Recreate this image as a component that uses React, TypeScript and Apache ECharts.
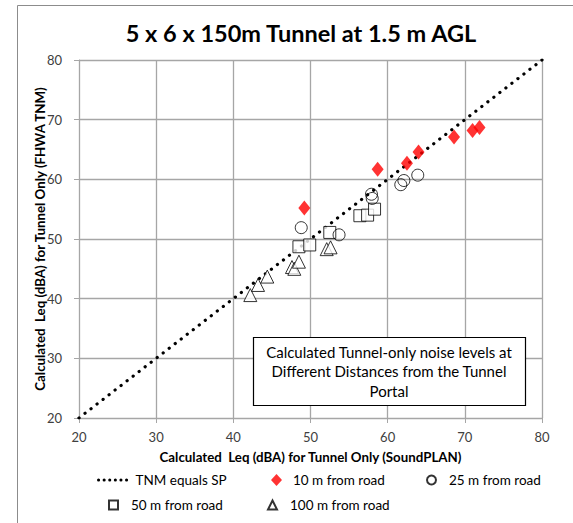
import React, { useEffect, useRef } from "react";
import * as echarts from "echarts";

const titleText = "5 x 6 x 150m Tunnel at 1.5 m AGL";
const xAxisName = "Calculated  Leq (dBA) for Tunnel Only (SoundPLAN)";
const yAxisName = "Calculated  Leq (dBA) for Tunnel Only (FHWA TNM)";
const annotationLines = [
  "Calculated Tunnel-only noise levels at",
  "Different Distances from the Tunnel",
  "Portal",
];

const equalityLine: number[][] = [
  [20, 20],
  [80, 80],
];
const from10m: number[][] = [
  [49.2, 55.2],
  [58.7, 61.7],
  [62.5, 62.7],
  [64.0, 64.6],
  [68.6, 67.1],
  [71.0, 68.2],
  [71.9, 68.7],
];
const from25m: number[][] = [
  [48.8, 51.9],
  [53.7, 50.7],
  [57.9, 57.5],
  [58.0, 56.8],
  [61.7, 59.1],
  [62.1, 59.8],
  [63.9, 60.7],
];
const from50m: number[][] = [
  [48.5, 48.7],
  [49.9, 49.0],
  [52.5, 51.1],
  [56.4, 53.9],
  [57.4, 54.0],
  [58.3, 55.0],
];
const from100m: number[][] = [
  [42.2, 40.6],
  [43.2, 42.3],
  [44.4, 43.7],
  [47.6, 45.3],
  [47.9, 45.0],
  [48.5, 46.2],
  [52.1, 48.3],
  [52.6, 48.6],
];

const FONT = "Lato, 'Open Sans', sans-serif";

export default function App() {
  const ref = useRef<HTMLDivElement>(null);
  useEffect(() => {
    document.body.style.margin = "0";
    if (!ref.current) return;
    const chart = echarts.init(ref.current, null, { renderer: "svg" });
    const axisCommon = {
      type: "value" as const,
      min: 20,
      max: 80,
      interval: 10,
      axisLine: { show: true, lineStyle: { color: "#a6a6a6", width: 1 } },
      axisTick: { show: true, inside: false, length: 5, lineStyle: { color: "#a6a6a6" } },
      splitLine: { show: true, lineStyle: { color: "#a6a6a6", width: 1.3 } },
      axisLabel: { color: "#404040", fontSize: 13, fontFamily: FONT },
      nameLocation: "middle" as const,
      nameMoveOverlap: false,
      nameTextStyle: { color: "#000", fontSize: 13.3, fontWeight: "bold" as const, fontFamily: FONT },
    };
    const legendCommon = {
      itemWidth: 9,
      itemHeight: 9,
      textStyle: { color: "#000", fontSize: 13.5, fontFamily: FONT },
      selectedMode: false,
    };
    chart.setOption({
      animation: false,
      backgroundColor: "#fff",
      title: {
        text: titleText,
        left: 296,
        top: 16,
        textAlign: "center",
        textStyle: { fontSize: 23.5, fontWeight: "bold", color: "#000", fontFamily: FONT },
      },
      grid: { left: 79, top: 60, width: 463, height: 358, containLabel: false },
      xAxis: {
        ...axisCommon,
        axisLabel: { ...axisCommon.axisLabel, margin: 12 },
        name: xAxisName,
        nameGap: 32,
      },
      yAxis: {
        ...axisCommon,
        axisLabel: { ...axisCommon.axisLabel, margin: 17 },
        name: yAxisName,
        nameGap: 33,
      },
      legend: [
        {
          ...legendCommon,
          data: ["TNM equals SP"],
          left: 92,
          top: 468,
          itemWidth: 30,
          itemStyle: { color: "transparent", borderColor: "transparent", borderWidth: 0 },
          lineStyle: { color: "#000", width: 3, type: [0.1, 5.5], cap: "round" },
          textStyle: { ...legendCommon.textStyle, padding: [0, 0, 0, 2] },
        },
        {
          ...legendCommon,
          data: ["10 m from road"],
          left: 266,
          top: 468,
          itemWidth: 11,
          itemHeight: 12,
          textStyle: { ...legendCommon.textStyle, padding: [0, 0, 0, 6] },
        },
        {
          ...legendCommon,
          data: ["25 m from road"],
          left: 421,
          top: 468,
          textStyle: { ...legendCommon.textStyle, padding: [0, 0, 0, 8] },
        },
        {
          ...legendCommon,
          data: ["50 m from road"],
          left: 103,
          top: 493,
          textStyle: { ...legendCommon.textStyle, padding: [0, 0, 0, 8] },
        },
        {
          ...legendCommon,
          data: ["100 m from road"],
          left: 262,
          top: 493,
          textStyle: { ...legendCommon.textStyle, padding: [0, 0, 0, 8] },
        },
      ],
      series: [
        {
          name: "TNM equals SP",
          type: "line",
          data: equalityLine,
          symbol: "none",
          lineStyle: { color: "#000", width: 3.2, type: [0.1, 7.5], cap: "round" },
          itemStyle: { color: "#000" },
          z: 1,
        },
        {
          name: "10 m from road",
          type: "scatter",
          data: from10m,
          symbol: "diamond",
          symbolSize: [12, 15],
          itemStyle: { color: "#ff0000" },
          z: 3,
        },
        {
          name: "25 m from road",
          type: "scatter",
          data: from25m,
          symbol: "circle",
          symbolSize: 12,
          itemStyle: { color: "rgba(255,255,255,0)", borderColor: "#000", borderWidth: 1 },
          z: 3,
        },
        {
          name: "50 m from road",
          type: "scatter",
          data: from50m,
          symbol: "rect",
          symbolSize: 12,
          itemStyle: { color: "#fff", borderColor: "#000", borderWidth: 1 },
          z: 2,
        },
        {
          name: "100 m from road",
          type: "scatter",
          data: from100m,
          symbol: "triangle",
          symbolSize: 13,
          itemStyle: { color: "#fff", borderColor: "#000", borderWidth: 1 },
          z: 2,
        },
      ],
      graphic: [
        {
          type: "rect",
          shape: { x: 17.5, y: 5.5, width: 700, height: 700 },
          style: { fill: "none", stroke: "#8c8c8c", lineWidth: 1 },
          silent: true,
        },
        {
          type: "rect",
          shape: { x: 253.5, y: 337.5, width: 272, height: 68 },
          style: { fill: "#fff", stroke: "#000", lineWidth: 1.2 },
          z: 10,
        },
        {
          type: "text",
          x: 389,
          y: 342,
          z: 11,
          style: {
            text: annotationLines.join("\n"),
            fontSize: 15,
            fontFamily: FONT,
            fill: "#000",
            align: "center",
            verticalAlign: "top",
            lineHeight: 19.5,
          },
        },
      ],
    });
    return () => chart.dispose();
  }, []);
  return (
    <div
      ref={ref}
      style={{ position: "absolute", left: 0, top: 0, width: 573, height: 523 }}
    />
  );
}
